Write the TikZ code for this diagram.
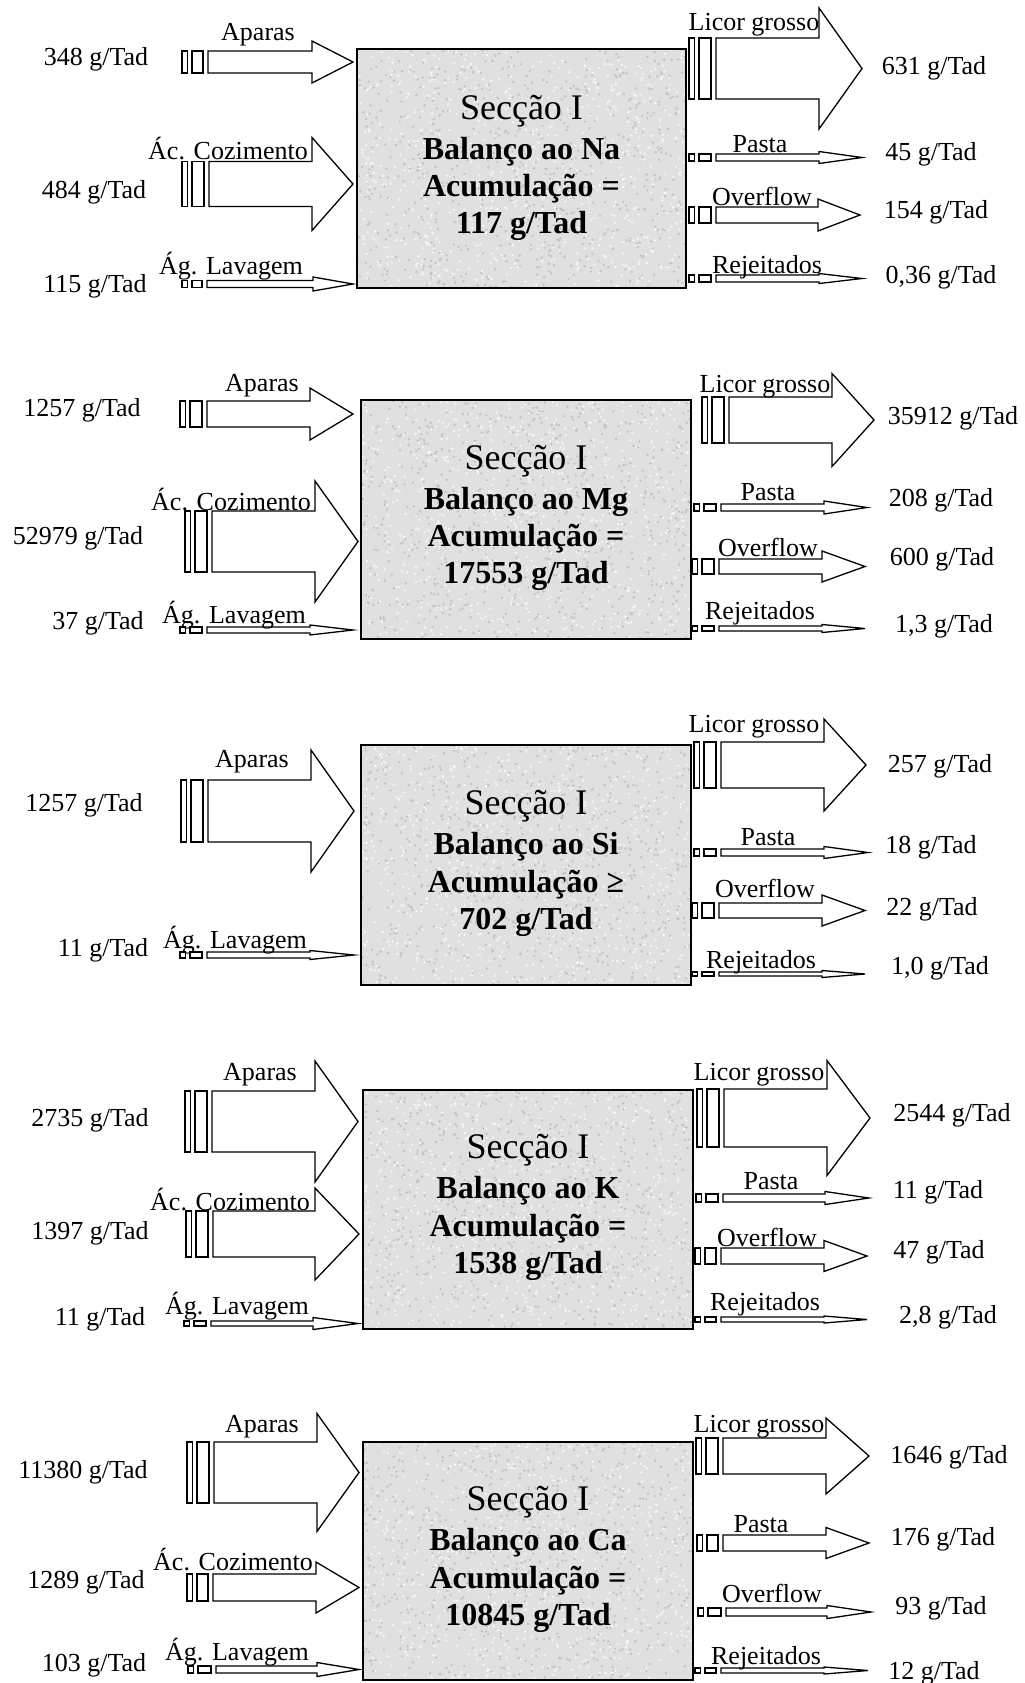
\documentclass[tikz,border=0pt]{standalone}
\usepackage{fontspec}
\setmainfont{Liberation Serif}
\usepackage{tikz}

\definecolor{granite}{gray}{0.88}
\definecolor{speckdark}{gray}{0.76}
\definecolor{specklight}{gray}{0.97}

% striped block arrow: stripes start, body start, head start, tip, centre line, half body, half head
\newcommand{\stripedarrow}[7]{%
  \draw[flowline] (#1,#5-#6) rectangle (#1+5.5,#5+#6);
  \draw[flowline] (#1+10,#5-#6) rectangle (#2-5,#5+#6);
  \draw[flowline] (#2,#5-#6) -- (#3,#5-#6) -- (#3,#5-#7) -- (#4,#5)
        -- (#3,#5+#7) -- (#3,#5+#6) -- (#2,#5+#6) -- cycle;
}
% section box with a speckled stone fill
\newcommand{\granitebox}[4]{%
  \fill[granite] (#1,#2) rectangle (#3,#4);
  \begin{scope}
    \clip (#1,#2) rectangle (#3,#4);
    \foreach \k in {1,...,700}{
      \fill[speckdark] ({#1+(#3-#1)*rnd},{#2+(#4-#2)*rnd}) circle (1.3);
      \fill[specklight] ({#1+(#3-#1)*rnd},{#2+(#4-#2)*rnd}) circle (1.3);
    }
  \end{scope}
  \draw[secbox] (#1,#2) rectangle (#3,#4);
}
\newcommand{\seccao}{{\mdseries\fontsize{18}{18.7}\selectfont Secção I}}

\begin{document}
\begin{tikzpicture}[x=0.5pt,y=-0.5pt,
    flowline/.style={draw=black,fill=white,line width=0.65pt},
    secbox/.style={draw=black,line width=1pt},
    sectext/.style={align=center,inner sep=0pt,font=\fontsize{16}{18.7}\selectfont\bfseries},
    flowlabel/.style={inner sep=0pt,font=\fontsize{13}{15}\selectfont},
    flowvalue/.style={inner sep=0pt,font=\fontsize{13}{15}\selectfont}]
  \useasboundingbox (0,0) rectangle (1024,1683);
  \pgfmathsetseed{4217}

  %% Na
  \granitebox{357}{49}{686}{288}
  \node[sectext] (secNa) at (521.5,168) {\seccao\\[1.2pt]Balanço ao Na\\Acumulação =\\117 g/Tad};
  \stripedarrow{182}{208}{312}{353}{62}{11}{21}
  \stripedarrow{182}{209}{312}{353}{184}{22.5}{46.5}
  \stripedarrow{182}{207}{313}{353}{284}{3.5}{7}
  \stripedarrow{689}{716}{819}{862}{68.5}{30.5}{60.5}
  \stripedarrow{689}{716}{819}{862}{157.5}{3.5}{6}
  \stripedarrow{689}{716}{818}{860}{215}{8}{16}
  \stripedarrow{689}{716}{819}{862}{278.5}{3.5}{5}
  \node[flowlabel] (naApa) at (258,35) {Aparas};
  \node[flowlabel] (naCoz) at (228,149) {Ác. Cozimento};
  \node[flowlabel] (naLav) at (231,266) {Ág. Lavagem};
  \node[flowvalue] (naApaV) at (96,59) {348 g/Tad};
  \node[flowvalue] (naCozV) at (94,192) {484 g/Tad};
  \node[flowvalue] (naLavV) at (95,286) {115 g/Tad};
  \node[flowlabel] (naLic) at (754,25) {Licor grosso};
  \node[flowlabel] (naPas) at (760,144) {Pasta};
  \node[flowlabel] (naOve) at (762,196) {Overflow};
  \node[flowlabel] (naRej) at (767,267) {Rejeitados};
  \node[flowvalue] (naLicV) at (934,68) {631 g/Tad};
  \node[flowvalue] (naPasV) at (931,154) {45 g/Tad};
  \node[flowvalue] (naOveV) at (936,212) {154 g/Tad};
  \node[flowvalue] (naRejV) at (941,277) {0,36 g/Tad};

  %% Mg
  \granitebox{361}{400}{691}{639}
  \node[sectext] (secMg) at (526,518) {\seccao\\[1.2pt]Balanço ao Mg\\Acumulação =\\17553 g/Tad};
  \stripedarrow{180}{207}{310}{353}{414}{13}{26}
  \stripedarrow{185}{212}{315}{358}{541.5}{30.5}{60.5}
  \stripedarrow{180}{207}{310}{353}{630}{3}{5}
  \stripedarrow{702}{729}{832}{874}{420}{23}{46.5}
  \stripedarrow{694}{721}{824}{867}{507.5}{3.5}{6.5}
  \stripedarrow{692}{719}{822}{865}{566.5}{7.5}{15.5}
  \stripedarrow{692}{719}{822}{865}{628.5}{2.5}{4}
  \node[flowlabel] (mgApa) at (262,386) {Aparas};
  \node[flowlabel] (mgCoz) at (231,500) {Ác. Cozimento};
  \node[flowlabel] (mgLav) at (234,615) {Ág. Lavagem};
  \node[flowvalue] (mgApaV) at (82,410) {1257 g/Tad};
  \node[flowvalue] (mgCozV) at (78,538) {52979 g/Tad};
  \node[flowvalue] (mgLavV) at (98,623) {37 g/Tad};
  \node[flowlabel] (mgLic) at (765,387) {Licor grosso};
  \node[flowlabel] (mgPas) at (768,492) {Pasta};
  \node[flowlabel] (mgOve) at (768,547) {Overflow};
  \node[flowlabel] (mgRej) at (760,613) {Rejeitados};
  \node[flowvalue] (mgLicV) at (953,418) {35912 g/Tad};
  \node[flowvalue] (mgPasV) at (941,500) {208 g/Tad};
  \node[flowvalue] (mgOveV) at (942,559) {600 g/Tad};
  \node[flowvalue] (mgRejV) at (944,626) {1,3 g/Tad};

  %% Si
  \granitebox{361}{745}{691}{985}
  \node[sectext] (secSi) at (526,863.5) {\seccao\\[1.2pt]Balanço ao Si\\Acumulação ≥\\702 g/Tad};
  \stripedarrow{181}{208}{311}{354}{811}{31}{61}
  \stripedarrow{180}{207}{310}{354}{955}{3}{4.5}
  \stripedarrow{694}{721}{824}{866}{765}{23}{46}
  \stripedarrow{694}{721}{824}{868}{852.5}{3.5}{6}
  \stripedarrow{692}{719}{822}{865}{910.5}{7.5}{15.5}
  \stripedarrow{692}{719}{822}{865}{974}{2}{3.5}
  \node[flowlabel] (siApa) at (252,762) {Aparas};
  \node[flowlabel] (siLav) at (235,940) {Ág. Lavagem};
  \node[flowvalue] (siApaV) at (84,805) {1257 g/Tad};
  \node[flowvalue] (siLavV) at (103,950) {11 g/Tad};
  \node[flowlabel] (siLic) at (754,727) {Licor grosso};
  \node[flowlabel] (siPas) at (768,837) {Pasta};
  \node[flowlabel] (siOve) at (765,888) {Overflow};
  \node[flowlabel] (siRej) at (761,962) {Rejeitados};
  \node[flowvalue] (siLicV) at (940,766) {257 g/Tad};
  \node[flowvalue] (siPasV) at (931,847) {18 g/Tad};
  \node[flowvalue] (siOveV) at (932,909) {22 g/Tad};
  \node[flowvalue] (siRejV) at (940,968) {1,0 g/Tad};

  %% K
  \granitebox{363}{1090}{693}{1329}
  \node[sectext] (secK) at (528,1207.5) {\seccao\\[1.2pt]Balanço ao K\\Acumulação =\\1538 g/Tad};
  \stripedarrow{185}{212}{315}{358}{1121.5}{30.5}{60.5}
  \stripedarrow{186}{213}{315}{359}{1234}{23}{46}
  \stripedarrow{184}{211}{313}{358}{1323.5}{2.5}{6}
  \stripedarrow{697}{724}{827}{870}{1118}{29}{57.5}
  \stripedarrow{696}{723}{825}{869}{1198}{4}{6.5}
  \stripedarrow{695}{721}{824}{867}{1256}{8}{15.5}
  \stripedarrow{695}{721}{824}{867}{1319.5}{2.5}{3.5}
  \node[flowlabel] (kApa) at (260,1075) {Aparas};
  \node[flowlabel] (kCoz) at (230,1200) {Ác. Cozimento};
  \node[flowlabel] (kLav) at (237,1306) {Ág. Lavagem};
  \node[flowvalue] (kApaV) at (90,1120) {2735 g/Tad};
  \node[flowvalue] (kCozV) at (90,1233) {1397 g/Tad};
  \node[flowvalue] (kLavV) at (100,1319) {11 g/Tad};
  \node[flowlabel] (kLic) at (759,1075) {Licor grosso};
  \node[flowlabel] (kPas) at (771,1181) {Pasta};
  \node[flowlabel] (kOve) at (767,1237) {Overflow};
  \node[flowlabel] (kRej) at (765,1304) {Rejeitados};
  \node[flowvalue] (kLicV) at (952,1115) {2544 g/Tad};
  \node[flowvalue] (kPasV) at (938,1192) {11 g/Tad};
  \node[flowvalue] (kOveV) at (939,1252) {47 g/Tad};
  \node[flowvalue] (kRejV) at (948,1317) {2,8 g/Tad};

  %% Ca
  \granitebox{363}{1442}{693}{1680}
  \node[sectext] (secCa) at (528,1559.5) {\seccao\\[1.2pt]Balanço ao Ca\\Acumulação =\\10845 g/Tad};
  \stripedarrow{187}{214}{317}{359}{1472.5}{30.5}{59}
  \stripedarrow{187}{213}{316}{359}{1587.5}{13.5}{25.5}
  \stripedarrow{188}{216}{317}{359}{1669.5}{3.5}{7}
  \stripedarrow{696}{723}{826}{869}{1456}{18}{38}
  \stripedarrow{697}{723}{826}{869}{1543}{8}{15.5}
  \stripedarrow{698}{726}{827}{871}{1612}{4}{6.5}
  \stripedarrow{695}{721}{824}{868}{1670.5}{2.5}{3.5}
  \node[flowlabel] (caApa) at (262,1427) {Aparas};
  \node[flowlabel] (caCoz) at (233,1560) {Ác. Cozimento};
  \node[flowlabel] (caLav) at (237,1652) {Ág. Lavagem};
  \node[flowvalue] (caApaV) at (83,1472) {11380 g/Tad};
  \node[flowvalue] (caCozV) at (86,1582) {1289 g/Tad};
  \node[flowvalue] (caLavV) at (94,1665) {103 g/Tad};
  \node[flowlabel] (caLic) at (759,1427) {Licor grosso};
  \node[flowlabel] (caPas) at (761,1524) {Pasta};
  \node[flowlabel] (caOve) at (772,1593) {Overflow};
  \node[flowlabel] (caRej) at (766,1658) {Rejeitados};
  \node[flowvalue] (caLicV) at (949,1457) {1646 g/Tad};
  \node[flowvalue] (caPasV) at (943,1539) {176 g/Tad};
  \node[flowvalue] (caOveV) at (941,1608) {93 g/Tad};
  \node[flowvalue] (caRejV) at (934,1673) {12 g/Tad};
\end{tikzpicture}
\end{document}
